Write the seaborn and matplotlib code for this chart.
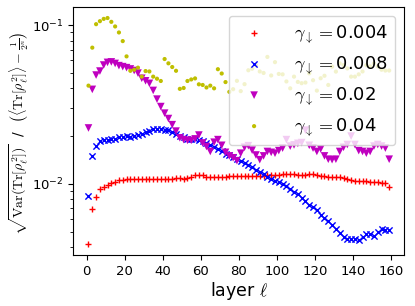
import matplotlib
matplotlib.use('Agg')
import matplotlib.pyplot as plt
import seaborn as sns
import numpy as np
import pandas as pd

plt.rcParams['mathtext.fontset'] = 'cm'
plt.rcParams['font.family'] = ['DejaVu Sans']

# layers 1, 3, ..., 159
layers = list(range(1, 160, 2))

gamma_labels = ['0.004', '0.008', '0.02', '0.04']

red_004 = [
    0.0042, 0.0069, 0.0083, 0.0093, 0.0095, 0.0098, 0.0101, 0.0102, 0.0105, 0.0106,
    0.0107, 0.0107, 0.0107, 0.0107, 0.0107, 0.0107, 0.0107, 0.0107, 0.0107, 0.0107,
    0.0108, 0.0108, 0.0108, 0.0109, 0.0109, 0.0108, 0.0109, 0.0111, 0.0113, 0.0114,
    0.0113, 0.0111, 0.0110, 0.0110, 0.0110, 0.0110, 0.0111, 0.0112, 0.0112, 0.0112,
    0.0112, 0.0112, 0.0112, 0.0112, 0.0112, 0.0112, 0.0112, 0.0113, 0.0113, 0.0114,
    0.0114, 0.0115, 0.0115, 0.0115, 0.0115, 0.0114, 0.0114, 0.0114, 0.0115, 0.0115,
    0.0114, 0.0112, 0.0112, 0.0111, 0.0111, 0.0110, 0.0110, 0.0109, 0.0108, 0.0106,
    0.0104, 0.0104, 0.0104, 0.0104, 0.0103, 0.0102, 0.0102, 0.0101, 0.0101, 0.0096,
]

blue_008 = [
    0.0084, 0.0149, 0.0172, 0.0186, 0.0190, 0.0190, 0.0191, 0.0193, 0.0196, 0.0198,
    0.0199, 0.0198, 0.0200, 0.0203, 0.0206, 0.0211, 0.0216, 0.0221, 0.0223, 0.0222,
    0.0220, 0.0217, 0.0212, 0.0205, 0.0199, 0.0197, 0.0193, 0.0193, 0.0191, 0.0189,
    0.0185, 0.0181, 0.0176, 0.0170, 0.0165, 0.0160, 0.0155, 0.0151, 0.0147, 0.0143,
    0.0139, 0.0135, 0.0131, 0.0127, 0.0123, 0.0119, 0.0115, 0.0111, 0.0107, 0.0104,
    0.0102, 0.0100, 0.0097, 0.0093, 0.0089, 0.0086, 0.0082, 0.0078, 0.0074, 0.0071,
    0.0068, 0.0064, 0.0061, 0.0058, 0.0055, 0.0052, 0.0049, 0.0046, 0.0045, 0.0045,
    0.0045, 0.0044, 0.0046, 0.0048, 0.0048, 0.0047, 0.0050, 0.0052, 0.0051, 0.0051,
]

magenta_02 = [
    0.0225, 0.0394, 0.0485, 0.0514, 0.0561, 0.0583, 0.0587, 0.0574, 0.0556, 0.0548,
    0.0540, 0.0530, 0.0518, 0.0499, 0.0463, 0.0446, 0.0430, 0.0388, 0.0342, 0.0307,
    0.0279, 0.0258, 0.0236, 0.0215, 0.0195, 0.0190, 0.0188, 0.0188, 0.0192, 0.0203,
    0.0181, 0.0172, 0.0160, 0.0183, 0.0190, 0.0175, 0.0158, 0.0150, 0.0146, 0.0140,
    0.0156, 0.0170, 0.0174, 0.0163, 0.0152, 0.0142, 0.0150, 0.0160, 0.0158, 0.0156,
    0.0162, 0.0168, 0.0190, 0.0173, 0.0176, 0.0180, 0.0182, 0.0218, 0.0175, 0.0168,
    0.0160, 0.0166, 0.0150, 0.0143, 0.0142, 0.0143, 0.0160, 0.0170, 0.0177, 0.0200,
    0.0177, 0.0162, 0.0160, 0.0156, 0.0160, 0.0173, 0.0177, 0.0173, 0.0168, 0.0143,
]

yellow_04 = [
    0.0416, 0.0722, 0.1015, 0.1060, 0.1096, 0.1110, 0.1050, 0.0982, 0.0900, 0.0794,
    0.0636, 0.0516, 0.0524, 0.0540, 0.0474, 0.0514, 0.0511, 0.0474, 0.0460, 0.0445,
    0.0612, 0.0575, 0.0545, 0.0516, 0.0397, 0.0402, 0.0445, 0.0455, 0.0462, 0.0424,
    0.0420, 0.0405, 0.0416, 0.0400, 0.0528, 0.0496, 0.0438, 0.0380, 0.0395, 0.0446,
    0.0384, 0.0425, 0.0520, 0.0532, 0.0560, 0.0511, 0.0500, 0.0631, 0.0482, 0.0585,
    0.0493, 0.0490, 0.0442, 0.0400, 0.0474, 0.0439, 0.0431, 0.0435, 0.0497, 0.0450,
    0.0387, 0.0463, 0.0480, 0.0420, 0.0548, 0.0510, 0.0575, 0.0560, 0.0534, 0.0474,
    0.0474, 0.0490, 0.0511, 0.0560, 0.0550, 0.0575, 0.0550, 0.0524, 0.0518, 0.0518,
]

series = [red_004, blue_008, magenta_02, yellow_04]
colors = ['r', 'b', 'm', 'y']
markers = ['+', 'x', 'v', 'o']
sizes = [22, 20, 30, 9]

fig, ax = plt.subplots(figsize=(4.15, 3.06), dpi=100)
fig.subplots_adjust(left=0.177, right=0.974, bottom=0.167, top=0.978)

for vals, lab, c, m, s in zip(series, gamma_labels, colors, markers, sizes):
    df = pd.DataFrame({'layer': layers, 'value': vals})
    if m in ['+', 'x']:
        sns.scatterplot(data=df, x='layer', y='value', ax=ax, color=c, marker=m,
                        s=s, linewidth=1.0, label=r'$\gamma_{\downarrow}=$' + lab)
    else:
        sns.scatterplot(data=df, x='layer', y='value', ax=ax, color=c, marker=m,
                        s=s, edgecolor='none', label=r'$\gamma_{\downarrow}=$' + lab)

ax.set_yscale('log')
ax.set_xticks(np.arange(0, 161, 20))
ax.tick_params(labelsize=9.5)
ax.set_xlabel(r'layer $\ell$', fontsize=12.5, labelpad=2)
ax.set_ylabel(r'$\sqrt{\mathrm{Var}(\mathrm{Tr}[\rho_\ell^2])}$  /  '
              r'$\left(\langle\mathrm{Tr}[\rho_\ell^2]\rangle - \frac{1}{2^n}\right)$',
              fontsize=10)
ax.yaxis.set_label_coords(-0.128, 0.49)
ax.legend(loc='upper right', fontsize=13, handletextpad=1.2)

plt.savefig('out.png', dpi=100)
